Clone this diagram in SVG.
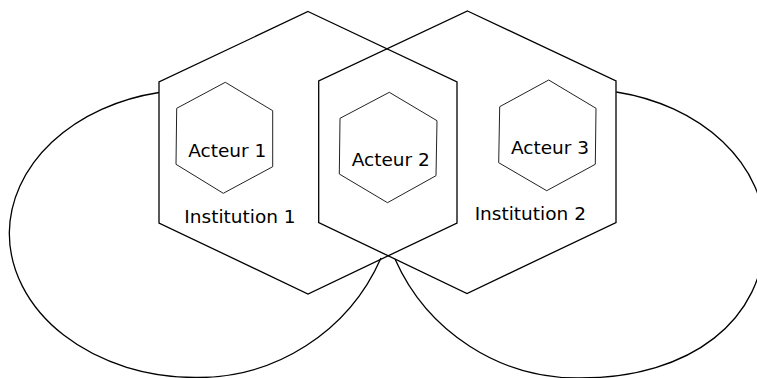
<svg xmlns="http://www.w3.org/2000/svg" width="757" height="378" viewBox="0 0 757 378">
<style>
.bg{fill:#ffffff}
.inst{fill:none;stroke:#000;stroke-width:1.3;stroke-linejoin:miter}
.act{fill:none;stroke:#222;stroke-width:1}
.conn{fill:none;stroke:#000;stroke-width:1.3}
text{font-family:"DejaVu Sans","Liberation Sans",sans-serif;font-size:18.5px;fill:#000;text-anchor:middle}
</style>
<rect class="bg" x="0" y="0" width="757" height="378"/>
<g id="connectors">
<path class="conn" d="M159,92.5 A186,144.5 0 0 0 9.3,233 A186,144.5 0 0 0 195,377.5 A200,200 0 0 0 381,258"/>
<path class="conn" d="M616.3,92 A185,144.5 0 0 1 765,233 C765,320 691,378 580,378 A200,200 0 0 1 395,259"/>
</g>
<g id="institution1">
<polygon class="inst" points="308,11.5 457,82 457,223 308,294 159,223 159,82"/>
<text x="240" y="222.7">Institution 1</text>
</g>
<g id="institution2">
<polygon class="inst" points="467.5,11 616,81 616,222.5 467,293.5 318.7,222.5 318.7,81"/>
<text x="530.3" y="220">Institution 2</text>
</g>
<g id="acteur1">
<polygon class="act" points="225.3,82.3 272.7,110.7 272.7,166.7 223.3,193.3 176,164.3 176.7,108.3"/>
<text x="227.2" y="157">Acteur 1</text>
</g>
<g id="acteur2">
<polygon class="act" points="389.3,92.3 437,120.7 436,175.7 387.5,202.7 339.3,174 340,118.3"/>
<text x="390.7" y="166">Acteur 2</text>
</g>
<g id="acteur3">
<polygon class="act" points="548.7,80 596,108.3 595.3,164.3 546.7,190.7 498.7,162.7 499.7,106.7"/>
<text x="550" y="154">Acteur 3</text>
</g>
</svg>
